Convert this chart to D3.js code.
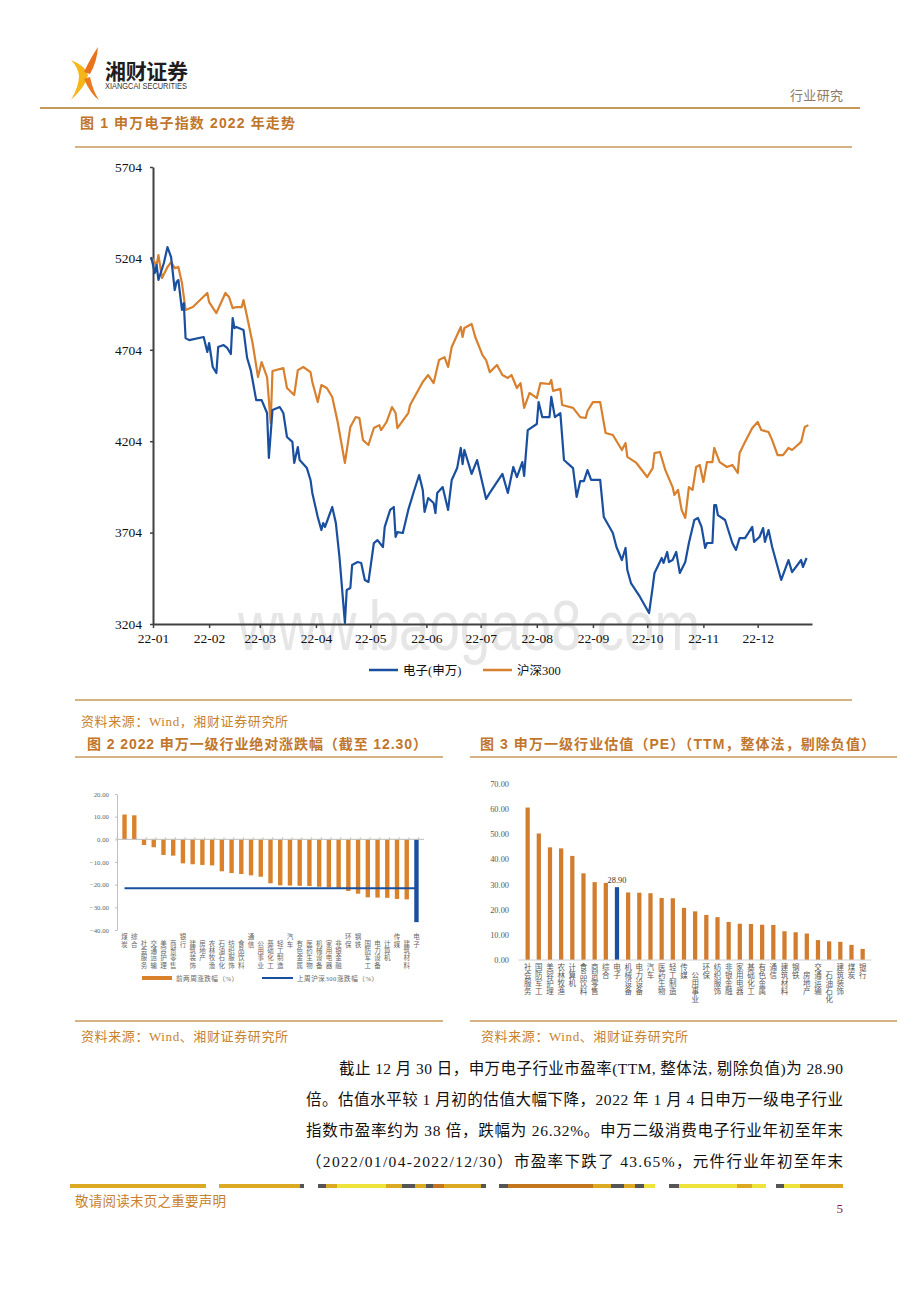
<!DOCTYPE html>
<html><head><meta charset="utf-8">
<script src="https://cdn.jsdelivr.net/npm/d3@7"></script>
<style>body{margin:0;background:#fff}</style>
</head><body>
<svg id="c" width="920" height="1302"></svg>
<script>
// ---------------- DATA ----------------
const dzDates = ["2021-12-31","2022-01-02","2022-01-03","2022-01-04","2022-01-07","2022-01-09","2022-01-11","2022-01-13","2022-01-14","2022-01-15","2022-01-17","2022-01-18","2022-01-19","2022-01-21","2022-01-29","2022-01-31","2022-02-01","2022-02-03","2022-02-05","2022-02-06","2022-02-09","2022-02-11","2022-02-13","2022-02-14","2022-02-15","2022-02-16","2022-02-20","2022-02-22","2022-02-24","2022-02-25","2022-02-27","2022-03-02","2022-03-05","2022-03-06","2022-03-08","2022-03-12","2022-03-14","2022-03-16","2022-03-19","2022-03-20","2022-03-22","2022-03-23","2022-03-27","2022-03-29","2022-03-30","2022-04-02","2022-04-04","2022-04-05","2022-04-06","2022-04-07","2022-04-10","2022-04-12","2022-04-14","2022-04-17","2022-04-18","2022-04-20","2022-04-21","2022-04-24","2022-04-26","2022-04-28","2022-04-30","2022-05-03","2022-05-05","2022-05-08","2022-05-09","2022-05-12","2022-05-14","2022-05-15","2022-05-16","2022-05-19","2022-05-22","2022-05-25","2022-05-28","2022-05-30","2022-05-31","2022-06-02","2022-06-05","2022-06-06","2022-06-07","2022-06-10","2022-06-13","2022-06-15","2022-06-18","2022-06-20","2022-06-21","2022-06-22","2022-06-26","2022-06-29","2022-07-04","2022-07-06","2022-07-13","2022-07-16","2022-07-19","2022-07-21","2022-07-24","2022-07-25","2022-07-27","2022-08-01","2022-08-02","2022-08-04","2022-08-08","2022-08-09","2022-08-11","2022-08-14","2022-08-16","2022-08-21","2022-08-23","2022-08-25","2022-08-27","2022-08-29","2022-08-31","2022-09-05","2022-09-07","2022-09-12","2022-09-14","2022-09-17","2022-09-19","2022-09-20","2022-09-22","2022-09-27","2022-10-02","2022-10-04","2022-10-05","2022-10-09","2022-10-10","2022-10-12","2022-10-13","2022-10-15","2022-10-17","2022-10-19","2022-10-22","2022-10-24","2022-10-27","2022-10-29","2022-10-31","2022-11-02","2022-11-03","2022-11-06","2022-11-07","2022-11-08","2022-11-09","2022-11-13","2022-11-17","2022-11-19","2022-11-21","2022-11-24","2022-11-28","2022-11-29","2022-12-02","2022-12-04","2022-12-05","2022-12-07","2022-12-09","2022-12-14","2022-12-18","2022-12-20","2022-12-25","2022-12-26","2022-12-28"];
const dzValues = [5211,5124,5168,5086,5179,5266,5211,5031,5075,5086,4922,4960,4768,4757,4774,4692,4741,4610,4577,4719,4730,4714,4681,4878,4823,4829,4812,4659,4593,4539,4429,4429,4358,4112,4375,4391,4358,4227,4200,4085,4172,4101,4057,3992,3921,3789,3718,3756,3735,3762,3844,3756,3570,3210,3390,3401,3527,3543,3538,3445,3434,3647,3663,3625,3735,3828,3844,3680,3707,3702,3828,3926,4019,3937,3817,3893,3866,3811,3921,3953,3828,3992,4057,4167,4079,4156,4025,4101,3888,3921,4025,3921,4063,4008,4090,4014,4265,4298,4418,4336,4336,4446,4336,4358,4101,4057,3899,3986,3986,4046,3992,3992,3789,3702,3625,3554,3620,3499,3428,3352,3264,3406,3483,3565,3538,3598,3543,3554,3598,3483,3543,3647,3773,3784,3735,3620,3647,3647,3855,3855,3800,3773,3647,3609,3674,3674,3735,3653,3680,3729,3653,3718,3625,3445,3554,3488,3554,3516,3565];

const hsDates = ["2021-12-31","2022-01-03","2022-01-04","2022-01-06","2022-01-09","2022-01-11","2022-01-13","2022-01-15","2022-01-17","2022-01-19","2022-01-23","2022-01-31","2022-02-01","2022-02-05","2022-02-10","2022-02-12","2022-02-14","2022-02-16","2022-02-19","2022-02-20","2022-02-22","2022-02-25","2022-02-28","2022-03-02","2022-03-05","2022-03-07","2022-03-08","2022-03-14","2022-03-16","2022-03-20","2022-03-22","2022-03-25","2022-03-29","2022-03-30","2022-04-02","2022-04-04","2022-04-07","2022-04-10","2022-04-13","2022-04-17","2022-04-20","2022-04-23","2022-04-25","2022-04-27","2022-04-30","2022-05-03","2022-05-06","2022-05-07","2022-05-10","2022-05-13","2022-05-15","2022-05-16","2022-05-22","2022-05-23","2022-05-30","2022-06-02","2022-06-05","2022-06-08","2022-06-11","2022-06-13","2022-06-15","2022-06-20","2022-06-21","2022-06-22","2022-06-26","2022-06-28","2022-07-02","2022-07-04","2022-07-06","2022-07-10","2022-07-13","2022-07-16","2022-07-18","2022-07-21","2022-07-23","2022-07-25","2022-07-28","2022-08-01","2022-08-03","2022-08-08","2022-08-09","2022-08-10","2022-08-14","2022-08-15","2022-08-21","2022-08-25","2022-08-28","2022-08-29","2022-09-01","2022-09-05","2022-09-08","2022-09-12","2022-09-17","2022-09-19","2022-09-20","2022-09-25","2022-10-01","2022-10-04","2022-10-05","2022-10-08","2022-10-11","2022-10-15","2022-10-16","2022-10-18","2022-10-20","2022-10-22","2022-10-24","2022-10-26","2022-10-28","2022-10-30","2022-11-01","2022-11-03","2022-11-06","2022-11-07","2022-11-10","2022-11-14","2022-11-17","2022-11-20","2022-11-21","2022-11-24","2022-11-28","2022-12-01","2022-12-03","2022-12-07","2022-12-09","2022-12-12","2022-12-15","2022-12-18","2022-12-20","2022-12-25","2022-12-27","2022-12-29"];
const hsValues = [5211,5168,5222,5097,5157,5184,5151,5157,5069,4922,4938,5015,4965,4905,5015,4993,4932,4938,4938,4976,4883,4741,4555,4637,4555,4303,4588,4604,4495,4457,4593,4610,4582,4528,4418,4511,4495,4446,4309,4085,4282,4336,4331,4210,4183,4276,4292,4265,4309,4391,4358,4276,4358,4402,4528,4566,4522,4648,4664,4610,4719,4829,4774,4823,4845,4774,4675,4648,4582,4621,4566,4550,4566,4495,4522,4386,4468,4440,4522,4517,4539,4479,4490,4402,4386,4336,4331,4369,4418,4418,4249,4238,4156,4194,4118,4085,4008,4057,4139,4145,4046,3953,3910,3937,3828,3784,3953,3937,4063,4074,3981,4090,4090,4167,4090,4063,4074,4030,4139,4200,4276,4309,4265,4254,4210,4128,4128,4167,4156,4200,4282,4292];

const fig1YTicks = [3204,3704,4204,4704,5204,5704];
const fig1Series = ["电子(申万)","沪深300"];

const fig2Cats = ["煤炭","综合","社会服务","交通运输","美容护理","商贸零售","银行","建筑装饰","房地产","农林牧渔","石油石化","纺织服饰","食品饮料","通信","公用事业","基础化工","轻工制造","汽车","有色金属","医药生物","机械设备","家用电器","非银金融","环保","钢铁","国防军工","电力设备","计算机","传媒","建筑材料","电子"];
const fig2Values = [10.95,10.6,-2.5,-3.5,-6.9,-7.2,-10.6,-11.0,-11.3,-11.5,-14.1,-14.9,-15.3,-15.9,-16.5,-19.4,-20.3,-20.4,-20.5,-20.6,-20.9,-21.2,-21.5,-22.8,-24.0,-25.6,-25.7,-25.8,-26.3,-26.5,-36.54];
const fig2HS300 = -21.63;
const fig2YTicks = [20,10,0,-10,-20,-30,-40];
const fig2Legend = ["前两周涨跌幅（%）","上周沪深300涨跌幅（%）"];

const fig3Cats = ["社会服务","国防军工","美容护理","农林牧渔","计算机","食品饮料","商贸零售","综合","电子","机械设备","电力设备","汽车","医药生物","轻工制造","传媒","公用事业","环保","纺织服饰","非银金融","家用电器","基础化工","有色金属","通信","建筑材料","钢铁","房地产","交通运输","石油石化","建筑装饰","煤炭","银行"];
const fig3Values = [60.5,50.2,44.7,44.3,41.3,34.4,30.9,30.6,28.90,26.8,26.7,26.5,24.6,24.5,20.7,19.3,17.9,17.0,15.1,14.4,14.3,14.0,13.9,11.4,11.0,10.5,7.9,7.4,7.2,6.0,4.4];
const fig3YTicks = [0,10,20,30,40,50,60,70];

const paragraph = [
  "截止 12 月 30 日，申万电子行业市盈率(TTM, 整体法, 剔除负值)为 28.90",
  "倍。估值水平较 1 月初的估值大幅下降，2022 年 1 月 4 日申万一级电子行业",
  "指数市盈率约为 38 倍，跌幅为 26.32%。申万二级消费电子行业年初至年末",
  "（2022/01/04-2022/12/30）市盈率下跌了 43.65%，元件行业年初至年末"
];

// ---------------- DRAW ----------------
const svg = d3.select("#c");
const SERIF = "'Liberation Serif','Noto Sans CJK SC',serif";
const SANSB = "'Liberation Sans','Noto Sans CJK SC',sans-serif";
const CJK = "'Noto Sans CJK SC',sans-serif";
const TITLE = "#c1762b", SRC = "#c8822e", RULE = "#c99a58";
const BLUE = "#1a4f9f", ORANGE = "#d8802e";

function txt(x, y, s, o = {}) {
  const t = svg.append("text").attr("x", x).attr("y", y).text(s)
    .attr("font-family", o.ff || SERIF).attr("font-size", o.fs || 13)
    .attr("fill", o.fill || "#000");
  if (o.fw) t.attr("font-weight", o.fw);
  if (o.anchor) t.attr("text-anchor", o.anchor);
  if (o.len) t.attr("textLength", o.len).attr("lengthAdjust", o.adj || "spacing");
  return t;
}
function vtxt(x, y, s, fs, sp, fill) {
  return svg.append("text").attr("x", x).attr("y", y).text(s)
    .attr("font-family", CJK).attr("font-size", fs).attr("fill", fill)
    .style("writing-mode", "vertical-rl").style("letter-spacing", sp + "px");
}
function hline(x1, x2, y, c, w) {
  svg.append("line").attr("x1", x1).attr("x2", x2).attr("y1", y).attr("y2", y)
    .attr("stroke", c).attr("stroke-width", w);
}

// Header / logo
svg.append("path").attr("d", "M71,60 Q86,66 88,75 Q86,86 71,100 Q79,86 79,76 Q78,67 71,60 Z").attr("fill", "#f6b61a");
svg.append("path").attr("d", "M98,47 Q91,57 84,72 L90,74 Q97,62 98,47 Z").attr("fill", "#e8731c");
svg.append("path").attr("d", "M90,77 Q93,91 99,100 Q91,95 84,79 Z").attr("fill", "#ea7a20");
txt(105, 79, "湘财证券", {ff: CJK, fs: 21, fw: 700, fill: "#1e1e1e", len: 83});
txt(105, 89, "XIANGCAI SECURITIES", {ff: "'Liberation Sans Narrow','Liberation Sans',sans-serif", fs: 8.5, fill: "#333", len: 82, adj: "spacingAndGlyphs"});
txt(843, 100, "行业研究", {ff: CJK, fs: 13, fill: "#8c7a68", anchor: "end", len: 53});
hline(40, 860, 108, "#c49a58", 2);

// Figure 1 title
txt(80, 128, "图 1 申万电子指数 2022 年走势", {ff: SANSB, fs: 14, fw: 700, fill: TITLE, len: 215});
hline(75, 852, 147, RULE, 1.5);

// watermark
txt(238, 650, "www.baogao8.com", {ff: "'Liberation Sans',sans-serif", fs: 70, fill: "#e6e6e6", len: 462, adj: "spacingAndGlyphs"});

// Figure 1 chart
const parse = d3.timeParse("%Y-%m-%d");
const x1 = d3.scaleTime().domain([new Date(2022,0,1), new Date(2022,11,31)]).range([153, 812]);
const y1 = d3.scaleLinear().domain([3204, 5704]).range([624, 167]);
const g1 = svg.append("g");
const months = d3.range(12).map(m => new Date(2022, m, 1));
const xa = g1.append("g").attr("transform", "translate(0,624)")
  .call(d3.axisBottom(x1).tickValues(months).tickFormat(d3.timeFormat("%y-%m")).tickSize(4).tickSizeOuter(0).tickPadding(5));
const ya = g1.append("g").attr("transform", "translate(153,0)")
  .call(d3.axisLeft(y1).tickValues(fig1YTicks).tickFormat(d3.format("d")).tickSize(3).tickSizeOuter(0).tickPadding(8));
[xa, ya].forEach(a => {
  a.select(".domain").attr("stroke", "#404040").attr("stroke-width", 2);
  a.selectAll(".tick line").attr("stroke", "#404040").attr("stroke-width", 1.5);
  a.selectAll("text").attr("font-family", SERIF).attr("font-size", 13.5).attr("fill", "#111");
});
const line1 = d3.line().x(d => x1(d.date)).y(d => y1(d.value));
const dz = dzDates.map((d, i) => ({date: parse(d), value: dzValues[i]}));
const hs = hsDates.map((d, i) => ({date: parse(d), value: hsValues[i]}));
g1.append("path").datum(hs).attr("d", line1).attr("fill", "none").attr("stroke", ORANGE).attr("stroke-width", 2.2).attr("stroke-linejoin", "round");
g1.append("path").datum(dz).attr("d", line1).attr("fill", "none").attr("stroke", BLUE).attr("stroke-width", 2.2).attr("stroke-linejoin", "round");
// legend
[[369, BLUE, 403], [483, ORANGE, 517]].forEach((l, i) => {
  hline(l[0], l[0] + 29, 670, l[1], 2.5);
  txt(l[2], 674.5, fig1Series[i], {fs: 12.5, fill: "#111"});
});

hline(75, 852, 700, RULE, 1.5);
txt(81, 726, "资料来源：Wind，湘财证券研究所", {fs: 13, fill: SRC, len: 207});

// Figure 2 & 3 titles
txt(87, 749, "图 2 2022 申万一级行业绝对涨跌幅（截至 12.30）", {ff: SANSB, fs: 14, fw: 700, fill: TITLE, len: 340});
hline(75, 443, 757, RULE, 1.5);
txt(480, 749, "图 3 申万一级行业估值（PE）（TTM，整体法，剔除负值）", {ff: SANSB, fs: 14, fw: 700, fill: TITLE, len: 395});
hline(470, 897, 757, RULE, 1.5);

// Figure 2 chart
const x2 = d3.scaleBand().domain(fig2Cats).range([117, 424]).padding(0.55);
const y2 = d3.scaleLinear().domain([-40, 20]).range([930, 794]);
const g2 = svg.append("g");
const ya2 = g2.append("g").attr("transform", "translate(117,0)")
  .call(d3.axisLeft(y2).tickValues(fig2YTicks).tickFormat(d3.format(".2f")).tickSize(2).tickSizeOuter(0).tickPadding(6));
ya2.select(".domain").attr("stroke", "#bfbfbf");
ya2.selectAll(".tick line").attr("stroke", "#bfbfbf");
ya2.selectAll("text").attr("font-family", SERIF).attr("font-size", 6.8).attr("fill", "#666");
g2.selectAll("rect.b").data(fig2Cats).join("rect")
  .attr("x", d => x2(d)).attr("width", x2.bandwidth())
  .attr("y", (d, i) => y2(Math.max(0, fig2Values[i])))
  .attr("height", (d, i) => Math.abs(y2(fig2Values[i]) - y2(0)))
  .attr("fill", (d, i) => i === fig2Cats.length - 1 ? BLUE : "#d9822b");
g2.append("line").attr("x1", 117).attr("x2", 424).attr("y1", y2(0)).attr("y2", y2(0)).attr("stroke", "#bfbfbf");
const step2 = x2.step();
g2.selectAll("line.t").data(d3.range(fig2Cats.length + 1)).join("line")
  .attr("x1", i => 117 + i * step2).attr("x2", i => 117 + i * step2)
  .attr("y1", y2(0)).attr("y2", y2(0) - 2).attr("stroke", "#bfbfbf");
g2.append("path")
  .datum(fig2Cats)
  .attr("d", d3.line().x(d => x2(d) + x2.bandwidth() / 2).y(() => y2(fig2HS300)))
  .attr("stroke", BLUE).attr("stroke-width", 2).attr("fill", "none");
fig2Cats.forEach(c => {
  const cx = x2(c) + x2.bandwidth() / 2;
  const y0 = c.length > 2 ? 940 : 933.5;
  vtxt(cx, y0, c, 6.5, 0.8, "#666");
});
g2.append("rect").attr("x", 142).attr("y", 976).attr("width", 30).attr("height", 4).attr("fill", "#d9822b");
txt(176, 980.5, fig2Legend[0], {ff: SERIF, fs: 6.6, fill: "#666", len: 62});
hline(262, 293, 978, BLUE, 2);
txt(297, 980.5, fig2Legend[1], {ff: SERIF, fs: 6.6, fill: "#666", len: 81});

// Figure 3 chart
const x3 = d3.scaleBand().domain(fig3Cats).range([518.6, 871.7]).padding(0.62);
const y3 = d3.scaleLinear().domain([0, 70]).range([960, 783.6]);
const g3 = svg.append("g");
const ya3 = g3.append("g").attr("transform", "translate(518,0)")
  .call(d3.axisLeft(y3).tickValues(fig3YTicks).tickFormat(d3.format(".2f")).tickSize(0).tickPadding(9));
ya3.select(".domain").remove();
ya3.selectAll("text").attr("font-family", SERIF).attr("font-size", 8.4).attr("fill", "#595959");
g3.selectAll("rect").data(fig3Cats).join("rect")
  .attr("x", d => x3(d)).attr("width", x3.bandwidth())
  .attr("y", (d, i) => y3(fig3Values[i]))
  .attr("height", (d, i) => y3(0) - y3(fig3Values[i]))
  .attr("fill", d => d === "电子" ? BLUE : "#d27c2e");
g3.append("line").attr("x1", 518.6).attr("x2", 871.7).attr("y1", 960).attr("y2", 960).attr("stroke", "#d0d0d0");
const ei = fig3Cats.indexOf("电子");
txt(x3("电子") + x3.bandwidth() / 2, y3(fig3Values[ei]) - 4, d3.format(".2f")(fig3Values[ei]), {fs: 8.4, fill: "#333", anchor: "middle"});
const low3 = new Set(["公用事业", "房地产", "石油石化"]);
fig3Cats.forEach(c => {
  const cx = x3(c) + x3.bandwidth() / 2;
  const y0 = low3.has(c) ? 971 : 963;
  vtxt(cx, y0, c, 7.5, 0.8, "#595959");
});

// bottom rules and sources
hline(75, 443, 1021, RULE, 1.5);
hline(470, 897, 1021, RULE, 1.5);
txt(81, 1041, "资料来源：Wind、湘财证券研究所", {fs: 13, fill: SRC, len: 207});
txt(481, 1041, "资料来源：Wind、湘财证券研究所", {fs: 13, fill: SRC, len: 207});

// paragraph
paragraph.forEach((s, i) => {
  const x0 = i === 0 ? 339 : 306;
  txt(x0, 1074 + i * 31, s, {fs: 15.5, fill: "#111", len: 843 - x0});
});

// footer decorative band
const GOLD = "#dcaa22", GREY = "#555", YEL = "#efe23a", BRN = "#c4761c";
const segs = [[70,206,GOLD],[219,300,GOLD],[300,304,GREY],[318,326,GREY],[326,337,GOLD],[337,386,YEL],[386,402,GOLD],[402,415,GREY],[415,426,GOLD],[426,433,GREY],[433,444,BRN],[444,481,GOLD],[481,486,GREY],[499,508,GREY],[508,593,BRN],[593,611,GOLD],[611,624,GREY],[624,635,GOLD],[635,644,GREY],[644,655,YEL],[669,679,GREY],[679,737,YEL],[737,752,GOLD],[752,766,YEL],[776,784,GREY],[784,800,YEL],[800,843,GOLD]];
svg.append("g").selectAll("rect").data(segs).join("rect")
  .attr("x", d => d[0]).attr("width", d => d[1] - d[0]).attr("y", 1184).attr("height", 4).attr("fill", d => d[2]);
txt(75, 1206, "敬请阅读末页之重要声明", {fs: 13.5, fill: SRC, len: 151});
txt(843, 1213, "5", {fs: 13, fill: "#8b1a3a", anchor: "end"});
</script>
</body></html>
